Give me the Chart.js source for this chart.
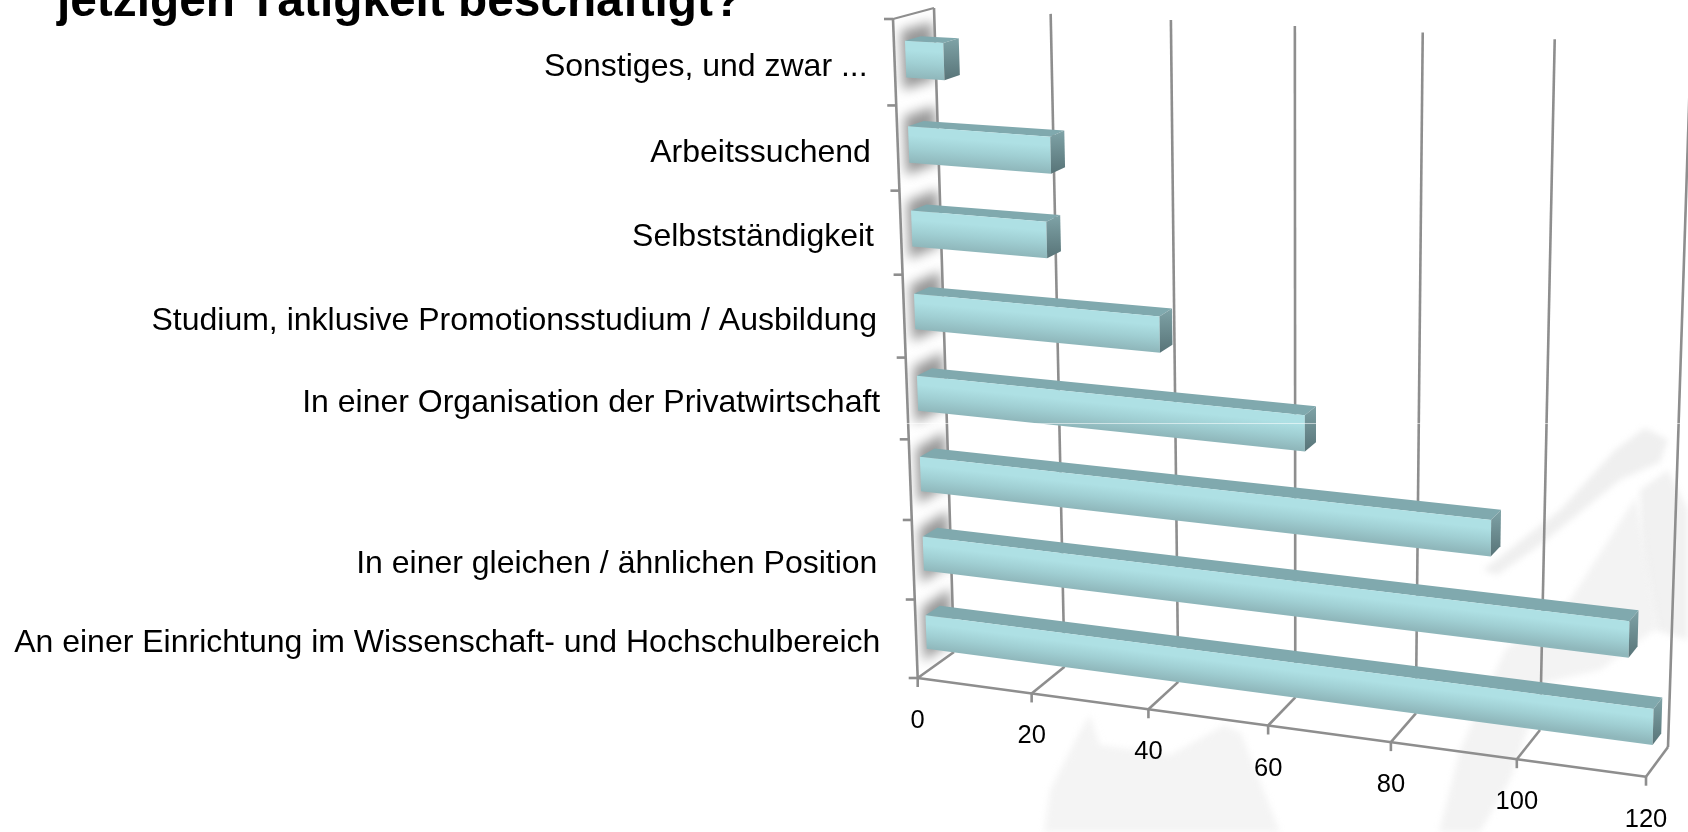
<!DOCTYPE html>
<html><head><meta charset="utf-8">
<style>html,body{margin:0;padding:0;background:#fff;overflow:hidden}canvas{display:block}</style>
<script src="https://cdn.jsdelivr.net/npm/chart.js@4"></script>
</head><body><canvas id="c" width="1688" height="832"></canvas>
<script>
const categories = ["Sonstiges, und zwar ...","Arbeitssuchend","Selbstständigkeit","Studium, inklusive Promotionsstudium / Ausbildung","In einer Organisation der Privatwirtschaft","","In einer gleichen / ähnlichen Position ","An einer Einrichtung im Wissenschaft- und Hochschulbereich "];
const values = [6.5,24,23,41.5,65,94.5,116,120];
const axisMax = 120, axisStep = 20;
const titleText = "jetzigen Tätigkeit beschäftigt?";

// corners of the chart box in the picture: top-left, top-right, bottom-right, bottom-left
const backWall = [[934,8],[1691,46],[1668,747],[954,652]];
const frontWall = [[893,19],[1664,69],[1646,776.7],[917.7,678]];
const barDepth = [0.27,0.66];

function homography(q){
  const [[x0,y0],[x1,y1],[x2,y2],[x3,y3]]=q;
  const dx1=x1-x2,dx2=x3-x2,sx=x0-x1+x2-x3,dy1=y1-y2,dy2=y3-y2,sy=y0-y1+y2-y3;
  const den=dx1*dy2-dx2*dy1, g=(sx*dy2-dx2*sy)/den, h=(dx1*sy-sx*dy1)/den;
  const a=x1-x0+g*x1,b=x3-x0+h*x3,c=x0,d=y1-y0+g*y1,e=y3-y0+h*y3,f=y0;
  return (u,v)=>{const w=g*u+h*v+1;return [(a*u+b*v+c)/w,(d*u+e*v+f)/w];};
}
const hB=homography(backWall), hF=homography(frontWall);
function P(u,v,d){const a=hF(u,v),b=hB(u,v);return [a[0]+(b[0]-a[0])*d,a[1]+(b[1]-a[1])*d];}
function poly(ctx,pts){ctx.beginPath();pts.forEach((p,i)=>i?ctx.lineTo(p[0],p[1]):ctx.moveTo(p[0],p[1]));ctx.closePath();}
function seg(ctx,a,b){ctx.beginPath();ctx.moveTo(a[0],a[1]);ctx.lineTo(b[0],b[1]);ctx.stroke();}

const GRID='#8e8e8e';
const wash=[
 {c:'#efefef',p:[[1483,570],[1560,510],[1615,450],[1645,428],[1668,440],[1660,462],[1620,480],[1540,545],[1497,575]]},
 {c:'#f1f1f1',p:[[1640,490],[1668,470],[1688,510],[1688,640],[1655,630],[1640,560]]},
 {c:'#f3f3f3',p:[[1505,650],[1570,600],[1636,497],[1658,627],[1600,670],[1544,683],[1510,780],[1480,832],[1439,832],[1460,750]]},
 {c:'#f4f4f4',p:[[1079,733],[1090,715],[1100,745],[1170,755],[1225,725],[1241,733],[1280,832],[1044,832],[1050,790]]}
];

const perspective={
  id:'perspective',
  beforeDatasetsDraw(chart){
    const ctx=chart.ctx,xs=chart.scales.x,ys=chart.scales.y;
    const U=val=>(xs.getPixelForValue(val)-xs.left)/xs.width;
    const V=py=>(py-ys.top)/ys.height;
    const bars=chart.getDatasetMeta(0).data;
    ctx.save();
    // background wash
    ctx.filter='blur(3px)';
    wash.forEach(s=>{ctx.fillStyle=s.c;poly(ctx,s.p);ctx.fill();});
    ctx.filter='none';
    // title
    ctx.fillStyle='#000';ctx.textAlign='left';ctx.textBaseline='alphabetic';
    ctx.font='bold 47.8px "Liberation Sans"';
    ctx.fillText(titleText,57,16);
    // shaded side wall
    const wall=[P(0,0,0),P(0,0,1),P(0,1,1),P(0,1,0)];
    ctx.save();poly(ctx,wall);ctx.clip();
    ctx.filter='blur(6px)';ctx.fillStyle='#989898';
    bars.forEach(b=>{
      const t=V(b.y-b.height/2)-0.016,e=V(b.y+b.height/2)+0.016;
      poly(ctx,[P(0,t,.18),P(0,t,.95),P(0,e,.95),P(0,e,.18)]);ctx.fill();
    });
    ctx.restore();
    // grid
    ctx.strokeStyle=GRID;ctx.lineCap='butt';
    xs.ticks.forEach(t=>{
      const u=U(t.value);
      ctx.lineWidth=2.6;
      seg(ctx,P(u,0,1),P(u,1,1));
      seg(ctx,P(u,1,1),P(u,1,0));
      const f=P(u,1,0);seg(ctx,f,[f[0],f[1]+9]);
    });
    seg(ctx,P(0,1,0),P(1,1,0));
    seg(ctx,P(0,0,0),P(0,1,0));
    ctx.lineWidth=2;seg(ctx,P(0,0,0),P(0,0,1));
    ctx.lineWidth=2.6;
    for(let i=0;i<=categories.length;i++){
      const py=i<categories.length?ys.getPixelForValue(i)-ys.height/categories.length/2:ys.bottom;
      const f=P(0,V(py),0);seg(ctx,[f[0]-9,f[1]],f);
    }
    // tick labels
    ctx.fillStyle='#000';ctx.font='25.5px "Liberation Sans"';ctx.textAlign='center';ctx.textBaseline='middle';
    xs.ticks.forEach(t=>{const f=P(U(t.value),1,0);ctx.fillText(String(t.value),f[0],f[1]+43);});
    // category labels
    ctx.font='32px "Liberation Sans"';ctx.textAlign='right';
    bars.forEach((b,i)=>{
      const v=V(b.y),f=P(0,v,0),m=P(0,v,barDepth[0]);
      ctx.fillText(ys.getLabelForValue(i),f[0]-27,m[1]+8+3*v);
    });
    // bars
    bars.forEach(b=>{
      const u0=U(0),u1=(b.x-xs.left)/xs.width,t=V(b.y-b.height/2),e=V(b.y+b.height/2);
      const [d0,d1]=barDepth;
      const ftl=P(u0,t,d0),ftr=P(u1,t,d0),fbl=P(u0,e,d0),fbr=P(u1,e,d0);
      const btl=P(u0,t,d1),btr=P(u1,t,d1),bbr=P(u1,e,d1);
      ctx.fillStyle='#80a9ae';poly(ctx,[ftl,ftr,btr,btl]);ctx.fill();
      // front face: shading runs across the bar
      const ex=ftr[0]-ftl[0],ey=ftr[1]-ftl[1],L=Math.hypot(ex,ey),nx=-ey/L,ny=ex/L;
      const h=(fbl[0]-ftl[0])*nx+(fbl[1]-ftl[1])*ny;
      const g=ctx.createLinearGradient(ftl[0],ftl[1],ftl[0]+nx*h,ftl[1]+ny*h);
      g.addColorStop(0,'#aee0e4');g.addColorStop(.25,'#aee0e4');g.addColorStop(.6,'#a0cfd3');g.addColorStop(1,'#8fb7bb');
      ctx.fillStyle=g;poly(ctx,[ftl,ftr,fbr,fbl]);ctx.fill();
      const g2=ctx.createLinearGradient(0,Math.min(ftr[1],btr[1]),0,fbr[1]);
      g2.addColorStop(0,'#7fa3a7');g2.addColorStop(1,'#587478');
      ctx.fillStyle=g2;poly(ctx,[ftr,btr,bbr,fbr]);ctx.fill();
    });
    // thin pale streak across the picture
    ctx.strokeStyle='rgba(255,255,255,.55)';ctx.lineWidth=1;seg(ctx,[890,423.5],[1688,423.5]);
    ctx.restore();
    return false;
  }
};

new Chart(document.getElementById('c'),{
  type:'bar',
  data:{labels:categories,datasets:[{data:values,backgroundColor:'#a6d8dd',barPercentage:.43,categoryPercentage:1}]},
  options:{
    indexAxis:'y',responsive:false,animation:false,
    layout:{padding:0},
    plugins:{legend:{display:false},tooltip:{enabled:false},title:{display:false}},
    scales:{
      x:{display:false,min:0,max:axisMax,ticks:{stepSize:axisStep}},
      y:{display:false}
    }
  },
  plugins:[perspective]
});
</script></body></html>
